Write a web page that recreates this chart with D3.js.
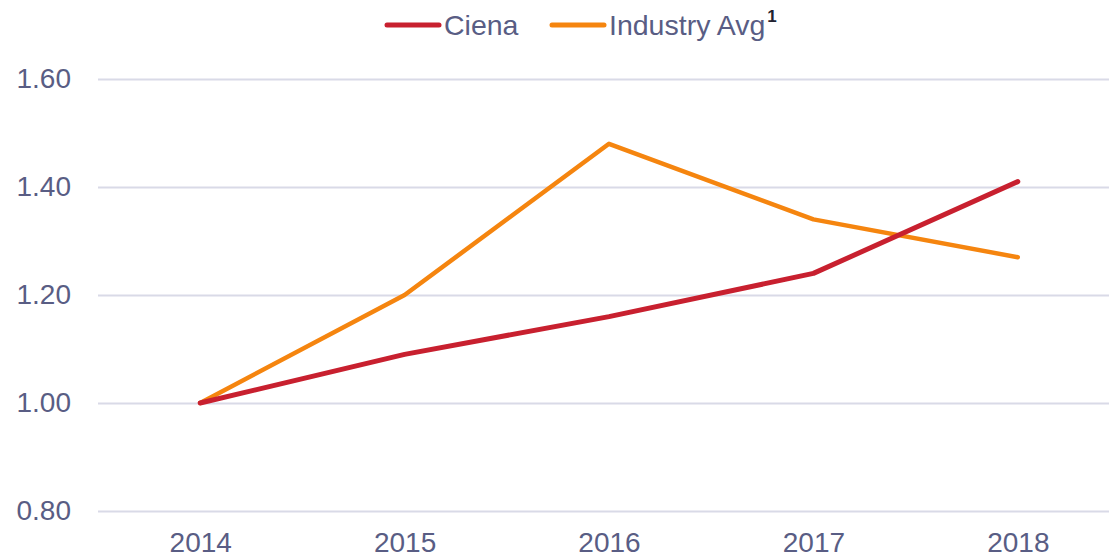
<!DOCTYPE html>
<html>
<head>
<meta charset="utf-8">
<script src="https://cdn.jsdelivr.net/npm/d3@7/dist/d3.min.js"></script>
<style>
html,body{margin:0;padding:0;background:#fff;}
svg{display:block;font-family:"Liberation Sans",Arial,sans-serif;}
</style>
</head>
<body>
<svg id="chart" width="1109" height="559"></svg>
<script>
const years = ["2014","2015","2016","2017","2018"];
const ciena = [1.00, 1.09, 1.16, 1.24, 1.41];
const industry = [1.00, 1.20, 1.48, 1.34, 1.27];
const yTicks = [0.80, 1.00, 1.20, 1.40, 1.60];
const seriesNames = ["Ciena", "Industry Avg"];

const textColor = "#595D84";
const colors = {"Ciena":"#C8202F","Industry Avg":"#F5850F"};

const svg = d3.select("#chart");
const mLeft = 98, mRight = 1120, mTop = 79, mBottom = 511;

const x = d3.scalePoint().domain(years).range([mLeft, mRight]).padding(0.5);
const y = d3.scaleLinear().domain([0.8, 1.6]).range([mBottom, mTop]);

// gridlines
const yAxis = d3.axisLeft(y).tickValues(yTicks).tickFormat(d3.format(".2f")).tickSize(-(mRight-mLeft)).tickPadding(27);
const gy = svg.append("g").attr("transform", `translate(${mLeft},0)`).call(yAxis);
gy.select(".domain").remove();
gy.selectAll(".tick line").attr("stroke", "#D9DAE7").attr("stroke-width", 2);
gy.selectAll(".tick text").attr("fill", textColor).attr("font-size", 28).attr("font-family","Liberation Sans, Arial, sans-serif");

const xAxis = d3.axisBottom(x).tickSize(0).tickPadding(21);
const gx = svg.append("g").attr("transform", `translate(0,${mBottom})`).call(xAxis);
gx.select(".domain").remove();
gx.selectAll(".tick text").attr("fill", textColor).attr("font-size", 28).attr("font-family","Liberation Sans, Arial, sans-serif");

const line = d3.line().x((d,i)=>x(years[i])).y(d=>y(d));

svg.append("path").datum(industry).attr("d", line)
  .attr("fill","none").attr("stroke", colors["Industry Avg"]).attr("stroke-width",4.5)
  .attr("stroke-linejoin","round").attr("stroke-linecap","round");
svg.append("path").datum(ciena).attr("d", line)
  .attr("fill","none").attr("stroke", colors["Ciena"]).attr("stroke-width",5)
  .attr("stroke-linejoin","round").attr("stroke-linecap","round");

// legend
const lg = svg.append("g");
const legendItems = [
  {name: seriesNames[0], x1: 387, x2: 439, tx: 444},
  {name: seriesNames[1], x1: 552, x2: 604, tx: 609}
];
legendItems.forEach(it => {
  lg.append("line").attr("x1", it.x1).attr("x2", it.x2).attr("y1", 25).attr("y2", 25)
    .attr("stroke", colors[it.name]).attr("stroke-width", 5).attr("stroke-linecap","round");
  const t = lg.append("text").attr("x", it.tx).attr("y", 35).attr("fill", textColor)
    .attr("font-size", 28.5).text(it.name);
  if (it.name === "Industry Avg") {
    t.append("tspan").attr("dx", 2).attr("dy", -13).attr("font-size", 17).attr("font-weight","bold").attr("fill","#222230").text("1");
  }
});
</script>
</body>
</html>
